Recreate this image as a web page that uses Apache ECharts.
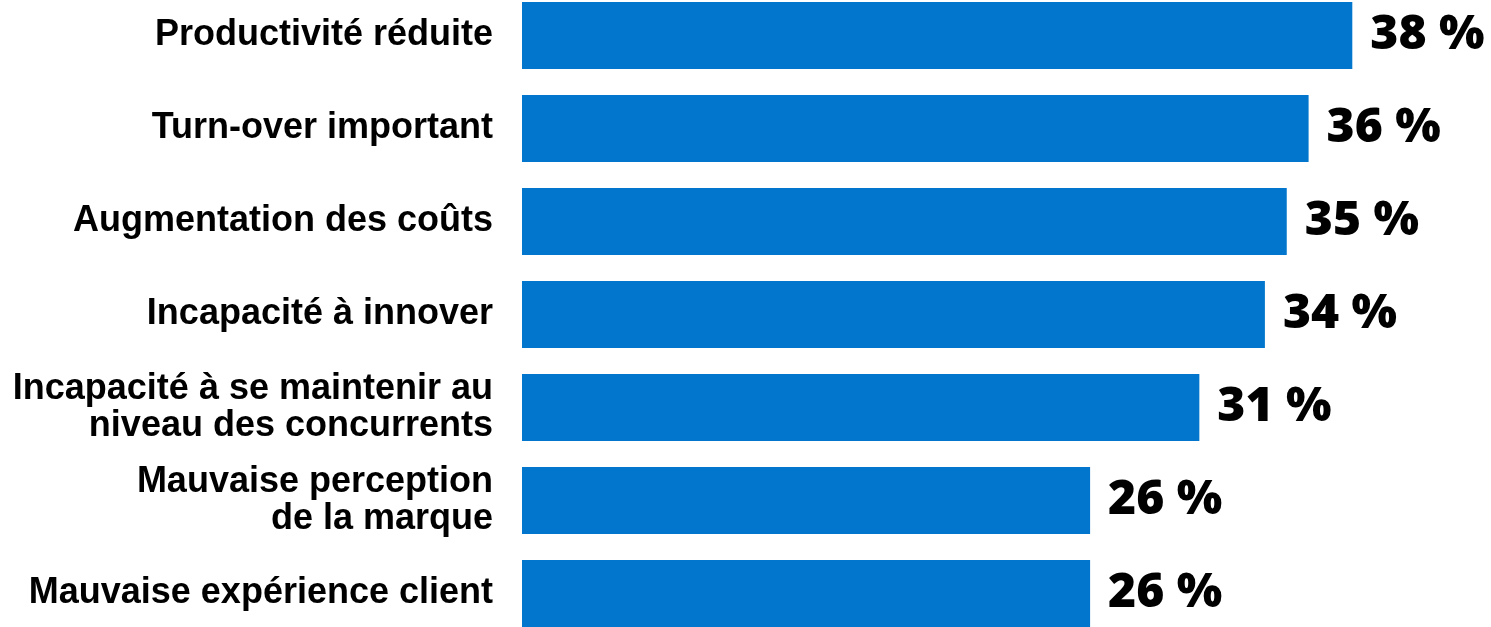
<!DOCTYPE html>
<html>
<head>
<meta charset="utf-8">
<script src="https://cdn.jsdelivr.net/npm/echarts@6/dist/echarts.min.js"></script>
<style>
  html, body { margin: 0; padding: 0; background: #fff; }
  #chart { width: 1491px; height: 627px; }
</style>
</head>
<body>
<div id="chart"></div>
<script>
var categories = [
  'Productivité réduite',
  'Turn-over important',
  'Augmentation des coûts',
  'Incapacité à innover',
  'Incapacité à se maintenir au\nniveau des concurrents',
  'Mauvaise perception\nde la marque',
  'Mauvaise expérience client'
];
var values = [38, 36, 35, 34, 31, 26, 26];

var myChart = echarts.init(document.getElementById('chart'));
var option = {
  animation: false,
  grid: {
    left: 522,
    width: 874,
    top: -11,
    height: 651,
    outerBoundsMode: 'none'
  },
  xAxis: {
    type: 'value',
    min: 0,
    max: 40,
    show: false
  },
  yAxis: {
    type: 'category',
    data: categories,
    inverse: true,
    axisLine: { show: false },
    axisTick: { show: false },
    axisLabel: {
      margin: 29,
      color: '#000',
      fontFamily: 'Liberation Sans',
      fontWeight: 'bold',
      fontSize: 36,
      lineHeight: 37,
      align: 'right'
    }
  },
  series: [{
    type: 'bar',
    data: values,
    barWidth: 67,
    itemStyle: { color: '#0176CC' },
    label: {
      show: true,
      position: 'right',
      distance: 18,
      color: '#000',
      fontFamily: 'Open Sans',
      fontWeight: 800,
      fontSize: 48,
      formatter: function (p) { return p.value + ' %'; }
    }
  }]
};
myChart.setOption(option);
</script>
</body>
</html>
